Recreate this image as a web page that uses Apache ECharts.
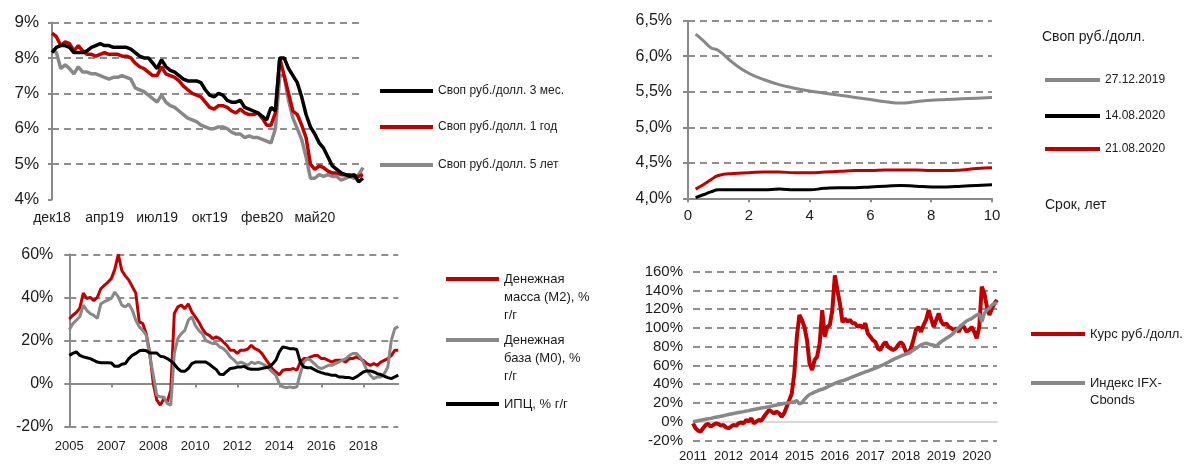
<!DOCTYPE html>
<html>
<head>
<meta charset="utf-8">
<script src="https://cdn.jsdelivr.net/npm/echarts@6/dist/echarts.min.js"></script>
<style>
  html, body { margin: 0; padding: 0; background: #fff; }
  #chart { width: 1192px; height: 468px; }
</style>
</head>
<body>
<div id="chart"></div>
<script>
// ---- панель 1: свопы, история ----
const swapLabels = ['дек18', 'апр19', 'июл19', 'окт19', 'фев20', 'май20']
const swapNames = ['Своп руб./долл. 3 мес.', 'Своп руб./долл. 1 год', 'Своп руб./долл. 5 лет']
const swap3m = [8.15, 8.3, 8.35, 8.35, 8.3, 8.15, 8.15, 8.15, 8.2, 8.3, 8.35, 8.4, 8.35, 8.35, 8.3, 8.3, 8.3, 8.3, 8.25, 8.15, 8.05, 8.0, 8.0, 7.85, 7.7, 7.95, 7.75, 7.65, 7.6, 7.5, 7.4, 7.35, 7.35, 7.35, 7.3, 7.1, 6.95, 6.9, 7.0, 6.95, 6.8, 6.75, 6.75, 6.8, 6.6, 6.55, 6.5, 6.45, 6.35, 6.25, 6.6, 6.5, 8.0, 8.0, 7.7, 7.5, 7.3, 6.9, 6.4, 6.05, 5.85, 5.6, 5.45, 5.2, 4.95, 4.85, 4.75, 4.7, 4.65, 4.7, 4.5, 4.6]
const swap1y = [8.7, 8.6, 8.35, 8.45, 8.4, 8.2, 8.35, 8.2, 8.1, 8.1, 8.05, 8.1, 8.15, 8.1, 8.1, 8.1, 8.05, 8.05, 8.0, 7.85, 7.75, 7.7, 7.6, 7.5, 7.5, 7.75, 7.55, 7.5, 7.45, 7.35, 7.2, 7.1, 7.0, 6.95, 6.9, 6.75, 6.6, 6.55, 6.65, 6.65, 6.6, 6.5, 6.45, 6.55, 6.45, 6.4, 6.4, 6.45, 6.3, 6.1, 6.1, 6.45, 8.0, 7.5, 7.0, 6.5, 6.4, 6.1, 5.75, 5.0, 4.85, 4.95, 4.9, 4.8, 4.75, 4.75, 4.7, 4.7, 4.7, 4.65, 4.65, 4.7]
const swap5y = [8.25, 8.15, 7.7, 7.8, 7.7, 7.55, 7.75, 7.6, 7.6, 7.55, 7.55, 7.5, 7.45, 7.4, 7.45, 7.45, 7.5, 7.45, 7.4, 7.15, 7.1, 7.05, 6.95, 6.85, 6.75, 6.95, 6.75, 6.65, 6.6, 6.5, 6.4, 6.3, 6.25, 6.2, 6.1, 6.05, 6.0, 6.0, 6.05, 6.05, 6.0, 5.9, 5.85, 5.85, 5.75, 5.8, 5.75, 5.75, 5.7, 5.65, 5.6, 6.0, 7.5, 7.5, 6.8, 6.3, 6.0, 5.7, 5.2, 4.6, 4.6, 4.7, 4.65, 4.7, 4.65, 4.65, 4.55, 4.6, 4.65, 4.6, 4.7, 4.9]

// ---- панель 2: кривая свопов по срокам ----
const curveNames = ['27.12.2019', '14.08.2020', '21.08.2020']
const tenors = [0.25, 0.5, 0.75, 1, 1.5, 2, 2.5, 3, 3.5, 4, 4.5, 5, 5.5, 6, 6.5, 7, 7.5, 8, 8.5, 9, 9.5, 10]
const curveDec19 = [6.31, 6.22, 6.12, 6.08, 5.9, 5.76, 5.67, 5.6, 5.55, 5.51, 5.48, 5.45, 5.42, 5.39, 5.36, 5.34, 5.36, 5.38, 5.39, 5.4, 5.41, 5.42]
const curveAug14 = [4.01, 4.05, 4.09, 4.12, 4.12, 4.12, 4.12, 4.13, 4.12, 4.12, 4.14, 4.15, 4.15, 4.16, 4.17, 4.18, 4.17, 4.16, 4.16, 4.17, 4.18, 4.19]
const curveAug21 = [4.13, 4.19, 4.26, 4.32, 4.35, 4.36, 4.37, 4.37, 4.36, 4.36, 4.37, 4.38, 4.39, 4.39, 4.4, 4.4, 4.4, 4.39, 4.39, 4.4, 4.42, 4.43]

// ---- панель 3: денежная масса ----
const moneyLabels = ['2005', '2007', '2008', '2010', '2012', '2014', '2016', '2018']
const moneyNames = ['Денежная\nмасса (M2), %\nг/г', 'Денежная\nбаза (M0), %\nг/г', 'ИПЦ, % г/г']
const m2 = [30, 31.7, 33, 35, 42, 39.5, 40, 38.5, 40, 44, 45.6, 47, 48.7, 53, 60, 52.5, 50, 48, 45, 42, 28.6, 27.8, 23, 14, 0, -7.7, -10, -7, -8.5, -3, 32.5, 35.6, 36.4, 34.8, 37, 33.3, 31, 28.6, 25.5, 23.2, 22.4, 20.9, 21.7, 20.9, 19.3, 17.8, 15.5, 15.5, 14, 15.5, 15.5, 16, 17.8, 16.2, 15.5, 14, 11.6, 9.3, 7, 5.4, 4, 6.2, 6.5, 6.5, 7, 6.2, 10, 11.6, 11.6, 12.4, 13, 13, 11.6, 11.6, 10.8, 10, 10.8, 10.8, 10.8, 10, 11.6, 11.6, 12.4, 11.6, 10.8, 9.3, 8.5, 9.3, 8.5, 10, 10.8, 11.6, 13, 15.5, 15.5]
const m0 = [25, 27.8, 29.4, 31, 36.4, 34, 32.5, 31.7, 30.2, 37, 38, 38.7, 39.5, 42.5, 40.2, 36.4, 35.6, 37, 34, 29.4, 26.3, 24.7, 22.4, 12.4, 3.9, -5.4, -6.2, -6.2, -9.3, -10, 14, 20.9, 23.2, 24.7, 29.4, 31, 27, 24.7, 23.2, 20, 19.3, 18.6, 18.6, 17, 16.2, 14.7, 12.4, 11, 9.3, 10, 9.3, 8.5, 10, 9.3, 10, 9.3, 8.5, 7, 5.4, 3.9, 0, -1.5, -1.9, -1.5, -1.9, -1.5, 4.6, 10, 11.6, 10.8, 9.3, 7.7, 7, 7.7, 8.5, 8.5, 9.3, 10, 10.8, 11.6, 13, 14, 14, 12.4, 10, 6.2, 3.9, 2.3, 3.1, 3.1, 4.6, 7.7, 20, 25.5, 26.5]
const cpi = [13.1, 14, 14.7, 13.1, 12.4, 12, 11.6, 10.8, 10, 9.7, 9.7, 9.7, 9.6, 8, 8, 9, 9.3, 11.6, 13.1, 14, 15.2, 15.5, 15.2, 14.2, 14.2, 14.2, 12.7, 12.4, 11.6, 10.5, 9, 7, 5.7, 5.7, 7, 9.3, 10, 10, 10, 10, 9, 7.7, 6.5, 4.3, 4.2, 5.7, 7, 7.2, 7.7, 7.7, 8, 7, 6.7, 6.7, 6.7, 7, 7.4, 7.7, 9, 10.8, 14.7, 17, 16.7, 16.2, 16.2, 15.8, 10, 7.7, 7.4, 7.4, 6.5, 5.7, 5.1, 4.6, 4.3, 3.9, 3.9, 3.1, 3.1, 2.8, 2.8, 2.3, 3.1, 4.2, 5.4, 5.9, 5.9, 5.4, 4.6, 4.2, 3.4, 2.8, 2.3, 3.1, 3.9]

// ---- панель 4: курс и IFX-Cbonds ----
const fxLabels = ['2011', '2012', '2014', '2015', '2016', '2017', '2018', '2019', '2020']
const fxNames = ['Курс руб./долл.', 'Индекс IFX-\nCbonds']
const usdrub = [-1.8, -7, -9.6, -10.7, -7, -3.5, -2.5, -5.3, -3.5, -1.8, -2.5, -4.3, -3.5, -6, -7, -5.3, -3.5, -4.3, -1.8, -0.7, -1.8, 1.8, 0, 3.6, -1.8, 0, 1.8, 1, 5.3, 8.9, 12.4, 10.7, 8.9, 10.7, 8.9, 5.3, 8.9, 16, 23, 30, 51.6, 90.7, 113.8, 108.5, 101, 87, 62, 55, 65.8, 69.3, 83.6, 119, 90.7, 101, 103, 119, 156, 140, 126, 106, 110, 106.7, 108.5, 105, 105, 101, 103, 99.6, 105, 94, 90.7, 87, 85, 78, 76.5, 82, 85, 80, 78, 76.5, 78, 82, 85, 82, 74.7, 73, 78, 87, 97.8, 101, 96, 103, 108.5, 119, 110, 101, 108.5, 115.5, 106.7, 103, 105, 101, 99.6, 97.8, 99.6, 96, 103, 101, 96, 97.8, 101, 96, 89, 101, 144, 137, 122.7, 113.8, 121, 126, 130]
const ifx = [0, 0.5, 1, 1.5, 2, 2.5, 3, 3.5, 4.2, 4.8, 5.3, 5.8, 6.3, 7, 7.6, 8.2, 8.7, 9.3, 9.8, 10.2, 10.7, 11.3, 11.8, 12.4, 13, 13.5, 14, 14.5, 15, 15.5, 16, 16.6, 17.2, 17.7, 18.3, 18.8, 19.3, 19.8, 20.3, 20.8, 21.3, 22.4, 18.8, 20.3, 23.8, 26.7, 29, 30.2, 31.6, 32.7, 33.8, 34.6, 35.5, 37, 38.4, 39.6, 40.9, 42, 43, 43.8, 44.5, 45.5, 46.6, 47.7, 48.8, 49.8, 50.9, 52, 53, 54, 55, 56, 57.2, 58.3, 59.4, 60.5, 61.9, 63.3, 64.8, 66.2, 67.6, 68.7, 69.8, 70.9, 72, 73, 74.7, 76.4, 78, 80, 82, 83, 83.6, 83, 82, 81.5, 80.7, 83, 85.4, 87.2, 89, 90.7, 92.4, 95, 97.8, 100.4, 103, 105.2, 107.4, 108.7, 110, 112, 113.8, 115, 106.7, 115.5, 119, 121, 124.5, 126, 127]

const RED = '#c00000'
const GRAY = '#888888'
const BLACK = '#000000'
const AXIS = '#8a8a8a'
const TXT = '#1a1a1a'
const FONT = "'Liberation Sans', Arial, sans-serif"

const chart = echarts.init(document.getElementById('chart'))

const dash = { color: '#8f8f8f', width: 2, type: [7, 5] }

const idx = arr => arr.map((_, i) => String(i))

// один элемент легенды: иконка-линия, центр по y
const legendItem = (name, color, left, yc, fontSize, lh, width) => {
  const lines = name.split('\n').length
  // пустые строки сверху, чтобы линия стояла у первой строки текста
  const pad = lines - 1
  const total = lines + pad
  return {
    data: [name],
    left: left,
    top: yc - total * lh / 2,
    orient: 'vertical',
    padding: 0,
    icon: 'rect',
    itemWidth: width,
    itemHeight: 4,
    selectedMode: false,
    formatter: n => '\n'.repeat(pad) + n,
    textStyle: { fontSize: fontSize, lineHeight: lh, color: TXT, fontFamily: FONT }
  }
}

const line = (name, data, color, xi, yi, width, smooth) => ({
  name: name,
  type: 'line',
  data: data,
  xAxisIndex: xi,
  yAxisIndex: yi,
  symbol: 'none',
  smooth: !!smooth,
  lineStyle: { color: color, width: width },
  itemStyle: { color: color }
})

const option = {
  animation: false,
  textStyle: { fontFamily: FONT },
  title: [
    { text: 'Своп руб./долл.', left: 1042, top: 30, padding: 0,
      textStyle: { fontSize: 14, fontWeight: 'normal', color: TXT, fontFamily: FONT } },
    { text: 'Срок, лет', left: 1045, top: 198, padding: 0,
      textStyle: { fontSize: 14, fontWeight: 'normal', color: TXT, fontFamily: FONT } }
  ],
  legend: [
    legendItem(swapNames[0], BLACK, 380, 91, 12, 15, 53),
    legendItem(swapNames[1], RED, 380, 127, 12, 15, 53),
    legendItem(swapNames[2], GRAY, 380, 165, 12, 15, 53),
    legendItem(curveNames[0], GRAY, 1045, 80, 12, 15, 55),
    legendItem(curveNames[1], BLACK, 1045, 116, 12, 15, 55),
    legendItem(curveNames[2], RED, 1045, 149, 12, 15, 55),
    legendItem(moneyNames[0], RED, 446, 279, 13, 18, 53),
    legendItem(moneyNames[1], GRAY, 446, 340, 13, 18, 53),
    legendItem(moneyNames[2], BLACK, 446, 404, 13, 18, 53),
    legendItem(fxNames[0], RED, 1031, 334, 13, 17, 54),
    legendItem(fxNames[1], GRAY, 1031, 383, 13, 17, 54)
  ],
  grid: [
    { left: 52, top: 22.5, width: 311, height: 177 },
    { left: 688, top: 20.7, width: 304, height: 177.6 },
    { left: 69.3, top: 254.3, width: 329, height: 172.4 },
    { left: 693, top: 271.7, width: 304, height: 168.7 }
  ],
  xAxis: [
    // 0: панель 1
    { type: 'category', gridIndex: 0, data: idx(swap3m), boundaryGap: false,
      axisLine: { show: false }, axisTick: { show: false },
      axisLabel: { interval: 11, margin: 12, fontSize: 14, color: TXT,
        formatter: (v, i) => swapLabels[i / 12] } },
    // 1: панель 2
    { type: 'value', gridIndex: 1, min: 0, max: 10, interval: 2,
      axisLine: { lineStyle: { color: AXIS, width: 2 } },
      axisTick: { show: true, length: 4, lineStyle: { color: AXIS, width: 2 } },
      splitLine: { show: false },
      axisLabel: { margin: 10, fontSize: 15, color: TXT } },
    // 2: панель 3, подписи внизу
    { type: 'category', gridIndex: 2, data: idx(m2), boundaryGap: false, position: 'bottom',
      axisLine: { show: false, onZero: false }, axisTick: { show: false },
      axisLabel: { interval: 11, margin: 13, fontSize: 13, color: TXT,
        formatter: (v, i) => moneyLabels[i / 12] } },
    // 3: панель 3, линия нуля
    { type: 'category', gridIndex: 2, data: idx(m2), boundaryGap: false, position: 'bottom',
      axisLine: { onZero: true, lineStyle: { color: AXIS, width: 2 } },
      axisTick: { show: true, interval: 11, length: 4, lineStyle: { color: AXIS, width: 2 } },
      axisLabel: { show: false } },
    // 4: панель 4, подписи внизу
    { type: 'category', gridIndex: 3, data: idx(usdrub), boundaryGap: false, position: 'bottom',
      axisLine: { show: false, onZero: false }, axisTick: { show: false },
      axisLabel: { interval: 13, margin: 10, fontSize: 13, color: TXT,
        formatter: (v, i) => fxLabels[i / 14] } },
    // 5: панель 4, линия нуля
    { type: 'category', gridIndex: 3, data: idx(usdrub), boundaryGap: false, position: 'bottom',
      axisLine: { onZero: true, lineStyle: { color: '#d9d9d9', width: 2 } },
      axisTick: { show: false }, axisLabel: { show: false } }
  ],
  yAxis: [
    { type: 'value', gridIndex: 0, min: 4, max: 9, interval: 1,
      axisLine: { show: true, lineStyle: { color: AXIS, width: 2 } },
      axisTick: { show: true, length: 4, lineStyle: { color: AXIS, width: 2 } },
      splitLine: { show: true, showMinLine: false, lineStyle: dash },
      axisLabel: { margin: 13, fontSize: 17, color: TXT, formatter: v => v + '%' } },
    { type: 'value', gridIndex: 1, min: 4, max: 6.5, interval: 0.5,
      axisLine: { show: true, lineStyle: { color: AXIS, width: 2 } },
      axisTick: { show: true, length: 5, lineStyle: { color: AXIS, width: 2 } },
      splitLine: { show: true, showMinLine: false, lineStyle: dash },
      axisLabel: { margin: 16, fontSize: 16, color: TXT,
        formatter: v => v.toFixed(1).replace('.', ',') + '%' } },
    { type: 'value', gridIndex: 2, min: -20, max: 60, interval: 20,
      axisLine: { show: true, lineStyle: { color: AXIS, width: 2 } },
      axisTick: { show: true, length: 5, lineStyle: { color: AXIS, width: 2 } },
      splitLine: { show: true, lineStyle: Object.assign({}, dash,
        { color: ['#8f8f8f', 'rgba(0,0,0,0)', '#8f8f8f', '#8f8f8f', '#8f8f8f'] }) },
      axisLabel: { margin: 16, fontSize: 16, color: TXT, formatter: v => v + '%' } },
    { type: 'value', gridIndex: 3, min: -20, max: 160, interval: 20,
      axisLine: { show: false }, axisTick: { show: false },
      splitLine: { show: true, lineStyle: Object.assign({}, dash,
        { color: ['#8f8f8f', 'rgba(0,0,0,0)', '#8f8f8f', '#8f8f8f', '#8f8f8f',
          '#8f8f8f', '#8f8f8f', '#8f8f8f', '#8f8f8f', '#8f8f8f'] }) },
      axisLabel: { margin: 10, fontSize: 15, color: TXT, formatter: v => v + '%' } }
  ],
  series: [
    line(swapNames[2], swap5y, GRAY, 0, 0, 3.5),
    line(swapNames[1], swap1y, RED, 0, 0, 3.5),
    line(swapNames[0], swap3m, BLACK, 0, 0, 3.5),

    line(curveNames[0], tenors.map((t, i) => [t, curveDec19[i]]), GRAY, 1, 1, 3, true),
    line(curveNames[1], tenors.map((t, i) => [t, curveAug14[i]]), BLACK, 1, 1, 3, true),
    line(curveNames[2], tenors.map((t, i) => [t, curveAug21[i]]), RED, 1, 1, 3, true),

    line(moneyNames[0], m2, RED, 2, 2, 3),
    line(moneyNames[1], m0, GRAY, 2, 2, 3),
    line(moneyNames[2], cpi, BLACK, 2, 2, 3),

    line(fxNames[0], usdrub, RED, 4, 3, 4),
    line(fxNames[1], ifx, GRAY, 4, 3, 3.5)
  ]
}

chart.setOption(option)
</script>
</body>
</html>
